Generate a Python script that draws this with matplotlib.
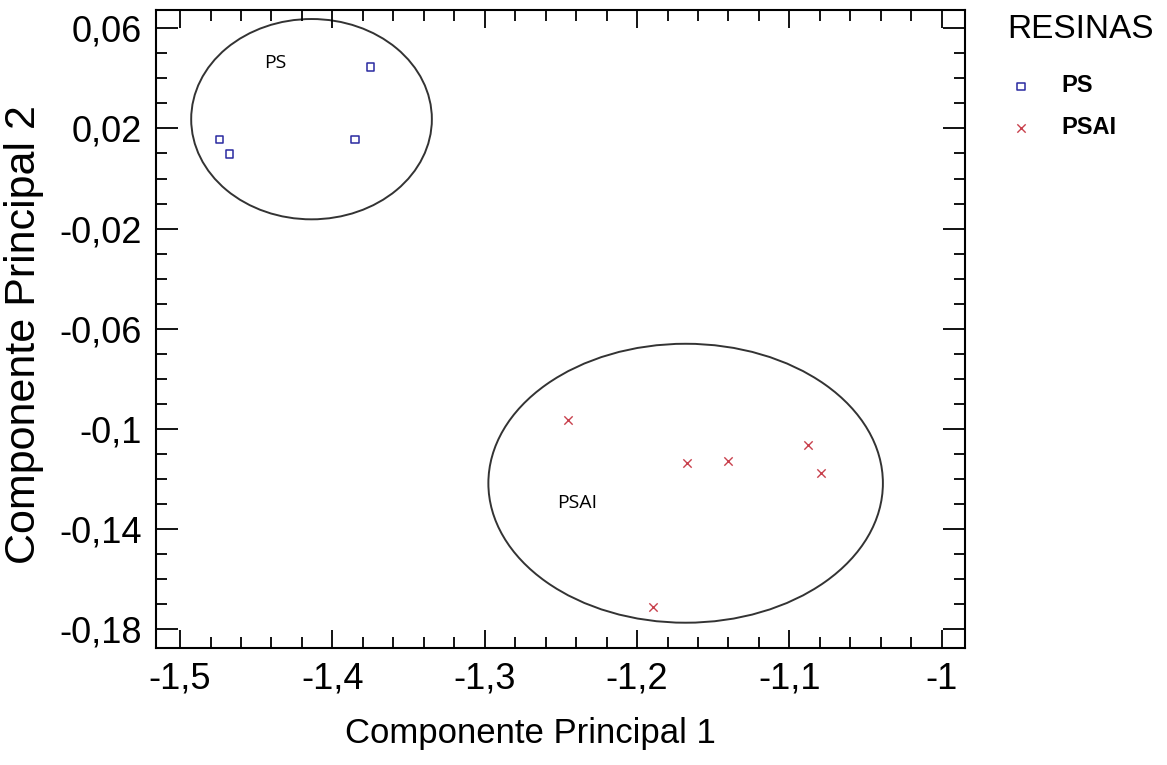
import matplotlib
matplotlib.use("Agg")
import matplotlib.pyplot as plt
from matplotlib.patches import Ellipse
from matplotlib.ticker import MultipleLocator, FuncFormatter

plt.rcParams['font.family'] = ['Liberation Sans', 'DejaVu Sans']

# Data
ps_x = [-1.3748, -1.3851, -1.4742, -1.4676]
ps_y = [0.0446, 0.0156, 0.0156, 0.0098]
psai_x = [-1.2454, -1.1669, -1.1400, -1.0875, -1.0793, -1.1896]
psai_y = [-0.0964, -0.1135, -0.1127, -0.1063, -0.1178, -0.1711]
groups = ["PS", "PSAI"]
legend_title = "RESINAS"
# ellipse (center x, center y, width, height)
ps_ellipse = (-1.4137, 0.0237, 0.158, 0.080)
psai_ellipse = (-1.1681, -0.1217, 0.259, 0.1114)
ps_label_pos = (-1.4376, 0.0461)
psai_label_pos = (-1.2391, -0.1294)
xticks = [-1.5, -1.4, -1.3, -1.2, -1.1, -1.0]
yticks = [0.06, 0.02, -0.02, -0.06, -0.10, -0.14, -0.18]

fig = plt.figure(figsize=(11.67, 7.65), dpi=100)
ax = fig.add_axes([156/1167, 1-648/765, (965-156)/1167, (648-10)/765])

blue = '#2a2aa0'
red = '#c8404c'
ax.scatter(ps_x, ps_y, marker='s', s=28, facecolors='none', edgecolors=blue,
           linewidths=1.1, label=groups[0], zorder=3)
ax.scatter(psai_x, psai_y, marker='x', s=36, color=red, linewidths=1.0,
           label=groups[1], zorder=3)

for (cx, cy, w, h) in (ps_ellipse, psai_ellipse):
    ax.add_patch(Ellipse((cx, cy), w, h, fill=False, edgecolor='#333333', lw=1.4))

ax.text(*ps_label_pos, groups[0], fontsize=14, ha='center', va='center',
        family=['Open Sans', 'DejaVu Sans'])
ax.text(*psai_label_pos, groups[1], fontsize=14, ha='center', va='center',
        family=['Open Sans', 'DejaVu Sans'])

ax.set_xlim(-1.5158, -0.9847)
ax.set_ylim(-0.1875, 0.0673)
ax.set_xticks(xticks)
ax.set_yticks(yticks)
ax.xaxis.set_minor_locator(MultipleLocator(0.02))
ax.yaxis.set_minor_locator(MultipleLocator(0.01))

def fmt(v, pos):
    s = ('%.2f' % v).rstrip('0').rstrip('.')
    if s == '-0':
        s = '0'
    return s.replace('.', ',')

ax.xaxis.set_major_formatter(FuncFormatter(fmt))
ax.yaxis.set_major_formatter(FuncFormatter(fmt))

ax.tick_params(which='both', direction='in', top=True, right=True, width=1.3)
ax.tick_params(which='major', labelsize=26, pad=10)
ax.tick_params(axis='x', which='major', length=13)
ax.tick_params(axis='y', which='major', length=16)
ax.tick_params(which='minor', length=8)
for sp in ax.spines.values():
    sp.set_linewidth(1.5)

ax.set_xlabel('Componente Principal 1', fontsize=25)
ax.xaxis.set_label_coords((530-156)/809, -(717-648)/638)
ax.set_ylabel('Componente Principal 2', fontsize=31)
ax.yaxis.set_label_coords(-(156-44)/809, (648-335)/638)

fig.text(1007/1167, 1-29/765, legend_title, fontsize=24, ha='left', va='center')
leg = ax.legend(loc='upper left', bbox_to_anchor=(995/1167, 1-65/765),
                bbox_transform=fig.transFigure, frameon=False,
                prop={'size': 17, 'weight': 'bold'},
                handletextpad=1.0, labelspacing=0.8,
                borderaxespad=0, handlelength=1.4)

fig.savefig('out.png', dpi=100)
